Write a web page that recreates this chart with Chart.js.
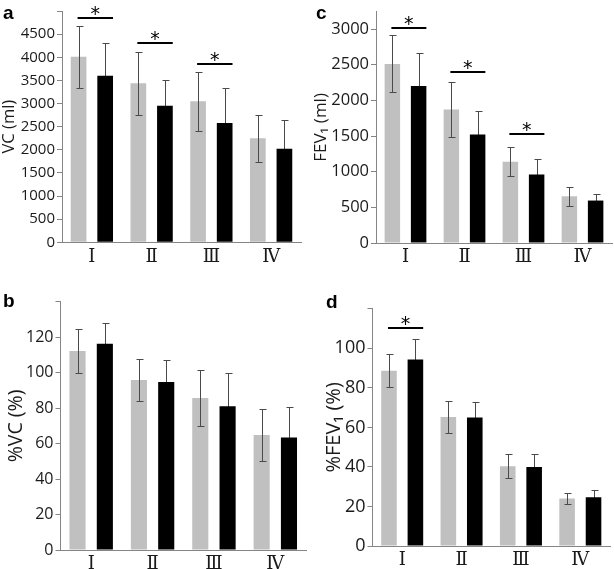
<!DOCTYPE html>
<html>
<head>
<meta charset="utf-8">
<script src="https://cdn.jsdelivr.net/npm/chart.js@4.4.1/dist/chart.umd.min.js"></script>
<style>
  body { margin: 0; background: #fff; }
  #page { position: relative; width: 614px; height: 569px; overflow: hidden; }
  #page canvas { position: absolute; }
</style>
</head>
<body>
<div id="page">
  <canvas id="chartA" width="307" height="285" style="left:0;top:0"></canvas>
  <canvas id="chartC" width="307" height="285" style="left:307px;top:0"></canvas>
  <canvas id="chartB" width="307" height="284" style="left:0;top:285px"></canvas>
  <canvas id="chartD" width="307" height="284" style="left:307px;top:285px"></canvas>
</div>
<script>
// groups on the x axis
const groups = ['Ⅰ', 'Ⅱ', 'Ⅲ', 'Ⅳ'];

// a: VC (ml)
const vcGray = [4010, 3440, 3050, 2250];
const vcGraySd = [665, 680, 640, 510];
const vcBlack = [3600, 2950, 2580, 2020];
const vcBlackSd = [710, 560, 760, 620];
const vcStars = [4840, 4300, 3850, null];
const vcTicks = [0, 500, 1000, 1500, 2000, 2500, 3000, 3500, 4000, 4500, 5000];

// b: %VC (%)
const pvcGray = [112.3, 95.9, 85.8, 64.9];
const pvcGraySd = [12.5, 12.1, 15.8, 14.7];
const pvcBlack = [116.4, 94.8, 81.1, 63.4];
const pvcBlackSd = [11.9, 12.6, 18.8, 17.0];
const pvcStars = [null, null, null, null];
const pvcTicks = [0, 20, 40, 60, 80, 100, 120, 140];

// c: FEV1 (ml)
const fevGray = [2510, 1870, 1140, 655];
const fevGraySd = [400, 390, 205, 130];
const fevBlack = [2200, 1520, 960, 595];
const fevBlackSd = [465, 330, 215, 97];
const fevStars = [3010, 2400, 1530, null];
const fevTicks = [0, 500, 1000, 1500, 2000, 2500, 3000];

// d: %FEV1 (%)
const pfevGray = [88.7, 65.3, 40.3, 24.0];
const pfevGraySd = [8.3, 8.0, 6.0, 3.0];
const pfevBlack = [94.3, 65.0, 40.0, 24.6];
const pfevBlackSd = [10.6, 7.8, 6.5, 3.5];
const pfevStars = [110.5, null, null, null];
const pfevTicks = [0, 20, 40, 60, 80, 100, 120];

const AXIS = '#858585';
const TEXT = '#1a1a1a';

// error bars, significance bars and the panel letter
const panelDecor = {
  id: 'panelDecor',
  beforeDatasetsDraw(chart) { drawErrors(chart, true); },
  afterDatasetsDraw(chart) {
    drawErrors(chart, false);
    const o = chart.options.plugins.panelDecor;
    const ctx = chart.ctx;
    const yScale = chart.scales.y;
    const g = chart.getDatasetMeta(0).data;
    const b = chart.getDatasetMeta(1).data;
    ctx.save();
    o.stars.forEach((v, j) => {
      if (v == null) return;
      const x0 = g[j].x - 1;
      const x1 = b[j].x + b[j].width / 2;
      const y = Math.round(yScale.getPixelForValue(v));
      ctx.strokeStyle = '#000';
      ctx.lineWidth = 2;
      ctx.beginPath();
      ctx.moveTo(x0, y);
      ctx.lineTo(x1, y);
      ctx.stroke();
      ctx.fillStyle = '#000';
      ctx.font = '19px "DejaVu Sans"';
      ctx.textAlign = 'center';
      ctx.textBaseline = 'alphabetic';
      const m = ctx.measureText('*');
      // bottom of the glyph 3px above the bar
      ctx.fillText('*', (x0 + x1) / 2, y - 3 - m.actualBoundingBoxDescent);
    });
    ctx.fillStyle = '#000';
    ctx.font = 'bold 19px "Liberation Sans"';
    ctx.textAlign = 'left';
    ctx.fillText(o.letter, o.letterX, o.letterY);
    ctx.restore();
  }
};

function drawErrors(chart, behind) {
  const ctx = chart.ctx;
  const yScale = chart.scales.y;
  ctx.save();
  ctx.strokeStyle = '#4a4a4a';
  ctx.lineWidth = 1;
  chart.data.datasets.forEach((ds, i) => {
    if (!!ds.errBehind !== behind) return;
    chart.getDatasetMeta(i).data.forEach((bar, j) => {
      const x = Math.round(bar.x) + 0.5;
      const top = Math.round(yScale.getPixelForValue(ds.data[j] + ds.sd[j])) + 0.5;
      const bot = Math.round(yScale.getPixelForValue(ds.data[j] - ds.sd[j])) + 0.5;
      ctx.beginPath();
      ctx.moveTo(x, bot);
      ctx.lineTo(x, top);
      ctx.moveTo(x - 3, top);
      ctx.lineTo(x + 4, top);
      ctx.moveTo(x - 3, bot);
      ctx.lineTo(x + 4, bot);
      ctx.stroke();
    });
  });
  ctx.restore();
}

function makePanel(id, p) {
  const canvas = document.getElementById(id);
  const W = canvas.width, H = canvas.height;
  return new Chart(canvas, {
    type: 'bar',
    data: {
      labels: groups,
      datasets: [
        { data: p.gray, sd: p.graySd, backgroundColor: '#c0c0c0' },
        { data: p.black, sd: p.blackSd, backgroundColor: '#000000', errBehind: true }
      ]
    },
    options: {
      responsive: false,
      devicePixelRatio: 1,
      animation: false,
      datasets: { bar: { categoryPercentage: 0.89, barPercentage: 0.59 } },
      layout: {
        autoPadding: false,
        padding: { left: 0, top: p.area.top, right: W - p.area.right, bottom: 0 }
      },
      plugins: {
        legend: { display: false },
        tooltip: { enabled: false },
        panelDecor: { stars: p.stars, letter: p.letter, letterX: p.letterX, letterY: p.letterY }
      },
      scales: {
        x: {
          grid: { display: false, drawTicks: false },
          border: { display: true, color: AXIS, width: 1 },
          ticks: { color: TEXT, padding: 4, font: { family: '"DejaVu Serif"', size: 18 } },
          afterFit(s) { s.height = H - p.area.bottom; }
        },
        y: {
          min: 0,
          max: p.max,
          border: { display: true, color: AXIS, width: 1 },
          grid: { display: true, drawOnChartArea: false, drawTicks: true, tickLength: 5, color: AXIS },
          afterBuildTicks(s) { s.ticks = p.ticks.map(v => ({ value: v })); },
          ticks: {
            padding: 2,
            color: TEXT,
            font: { family: '"Open Sans"', size: p.tickSize },
            callback: v => (v > p.lastLabel ? '' : v)
          },
          title: {
            display: true,
            text: p.title,
            color: TEXT,
            padding: { top: p.titlePad, bottom: 0 },
            font: { family: '"Open Sans"', size: p.titleSize }
          },
          afterFit(s) { s.width = p.area.left; }
        }
      }
    },
    plugins: [panelDecor]
  });
}

makePanel('chartA', {
  gray: vcGray, graySd: vcGraySd, black: vcBlack, blackSd: vcBlackSd, stars: vcStars,
  ticks: vcTicks, title: 'VC (ml)', max: 5000, lastLabel: 4500,
  tickSize: 15, titleSize: 16.5, titlePad: -1,
  area: { left: 62, top: 5.7, right: 301, bottom: 242.3 },
  letter: 'a', letterX: 3, letterY: 19
});

makePanel('chartB', {
  gray: pvcGray, graySd: pvcGraySd, black: pvcBlack, blackSd: pvcBlackSd, stars: pvcStars,
  ticks: pvcTicks, title: '%VC (%)', max: 140, lastLabel: 120,
  tickSize: 16, titleSize: 19.5, titlePad: 5,
  area: { left: 60.5, top: 16.8, right: 306, bottom: 265 },
  letter: 'b', letterX: 3, letterY: 21.7
});

makePanel('chartC', {
  gray: fevGray, graySd: fevGraySd, black: fevBlack, blackSd: fevBlackSd, stars: fevStars,
  ticks: fevTicks, title: 'FEV₁ (ml)', max: 3240, lastLabel: 3000,
  tickSize: 16.5, titleSize: 17, titlePad: 4,
  area: { left: 69, top: 6.7, right: 305, bottom: 243 },
  letter: 'c', letterX: 9, letterY: 19
});

makePanel('chartD', {
  gray: pfevGray, graySd: pfevGraySd, black: pfevBlack, blackSd: pfevBlackSd, stars: pfevStars,
  ticks: pfevTicks, title: '%FEV₁ (%)', max: 120, lastLabel: 100,
  tickSize: 18, titleSize: 20, titlePad: 15,
  area: { left: 65.5, top: 23.8, right: 303, bottom: 261 },
  letter: 'd', letterX: 19, letterY: 22.7
});
</script>
</body>
</html>
